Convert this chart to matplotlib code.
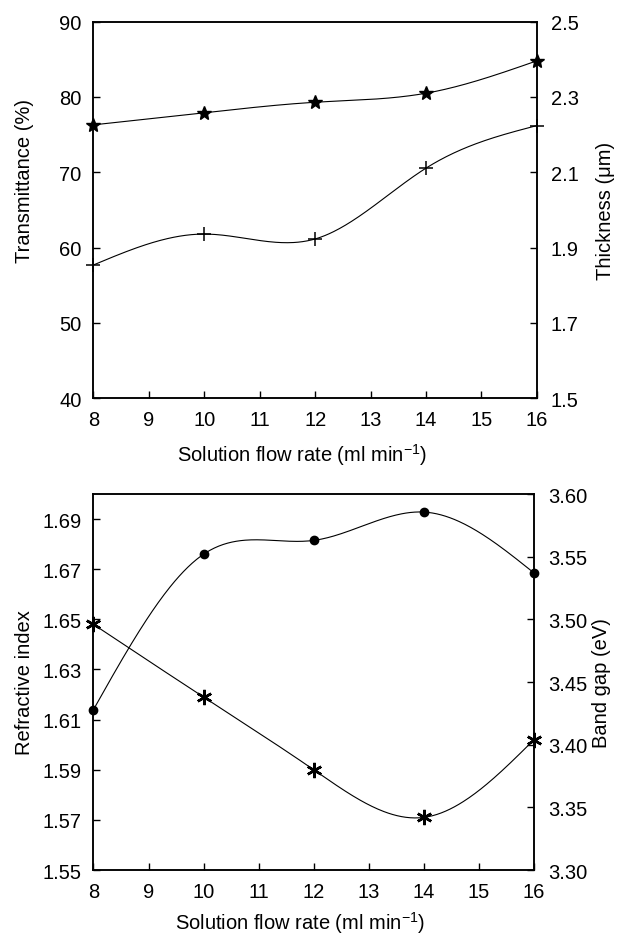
import numpy as np
import matplotlib.pyplot as plt

plt.rcParams['font.family'] = ['Liberation Sans', 'DejaVu Sans']
plt.rcParams['mathtext.fontset'] = 'custom'
plt.rcParams['mathtext.rm'] = 'Liberation Sans'
plt.rcParams['mathtext.it'] = 'Liberation Sans:italic'

# data
flow_rate     = [8, 10, 12, 14, 16]
transmittance = [76.3, 77.9, 79.3, 80.5, 84.8]       # stars, left axis
thickness     = [1.854, 1.936, 1.923, 2.111, 2.224]  # crosses, right axis
refr_index    = [1.614, 1.676, 1.6815, 1.6928, 1.6685]  # dots, left axis
band_gap      = [3.496, 3.438, 3.380, 3.342, 3.404]     # asterisks, right axis

XLABEL = r'Solution flow rate (ml min$^{-1}$)'
FS = 14.5


def natural_spline(x, y, n=300):
    """Smooth curve through the points (natural cubic spline)."""
    x = np.asarray(x, float)
    y = np.asarray(y, float)
    k = len(x)
    h = np.diff(x)
    A = np.zeros((k, k))
    b = np.zeros(k)
    A[0, 0] = A[-1, -1] = 1
    for i in range(1, k - 1):
        A[i, i - 1] = h[i - 1]
        A[i, i] = 2 * (h[i - 1] + h[i])
        A[i, i + 1] = h[i]
        b[i] = 6 * ((y[i + 1] - y[i]) / h[i] - (y[i] - y[i - 1]) / h[i - 1])
    M = np.linalg.solve(A, b)
    xs = np.linspace(x[0], x[-1], n)
    idx = np.clip(np.searchsorted(x, xs) - 1, 0, k - 2)
    x0, x1 = x[idx], x[idx + 1]
    hh = x1 - x0
    t0, t1 = x1 - xs, xs - x0
    ys = (M[idx] * t0**3 + M[idx + 1] * t1**3) / (6 * hh) \
        + (y[idx] / hh - M[idx] * hh / 6) * t0 \
        + (y[idx + 1] / hh - M[idx + 1] * hh / 6) * t1
    return xs, ys


def style(ax, twin, left_label, right_label, left_y=0.5, xlab_y=-0.148):
    for sp in list(ax.spines.values()) + list(twin.spines.values()):
        sp.set_linewidth(1.1)
    ax.tick_params(axis='both', direction='in', length=5, width=1.0,
                   labelsize=FS, top=False, right=False)
    ax.tick_params(axis='y', pad=8.5)
    ax.tick_params(axis='x', pad=8.5)
    twin.tick_params(axis='y', direction='in', length=5, width=1.0,
                     labelsize=FS, pad=10)
    ax.set_xlim(8, 16)
    ax.set_xticks(range(8, 17))
    ax.set_xlabel(XLABEL, fontsize=FS)
    ax.xaxis.set_label_coords(0.47, xlab_y)
    ax.xaxis.label.set_va('center')
    ax.set_ylabel(left_label, fontsize=FS)
    ax.yaxis.set_label_coords(-0.156, left_y)
    ax.yaxis.label.set_va('center')
    twin.set_ylabel(right_label, fontsize=FS)
    twin.yaxis.set_label_coords(1.154, 0.5)
    twin.yaxis.label.set_va('center')


fig = plt.figure(figsize=(6.17, 9.37), dpi=100)

# top panel
ax1 = fig.add_axes([0.1515, 0.5739, 0.7185, 0.4019])
tw1 = ax1.twinx()
xs, ys = natural_spline(flow_rate, transmittance)
ax1.plot(xs, ys, color='black', lw=0.8)
ax1.plot(flow_rate, transmittance, ls='none', marker='*', ms=10, color='black',
         clip_on=False)
xs, ys = natural_spline(flow_rate, thickness)
tw1.plot(xs, ys, color='black', lw=0.8)
tw1.plot(flow_rate, thickness, ls='none', marker='+', ms=10, mew=1.1,
         color='black', clip_on=False)
ax1.set_ylim(40, 90)
ax1.set_yticks(range(40, 91, 10))
tw1.set_ylim(1.5, 2.5)
tw1.set_yticks([1.5, 1.7, 1.9, 2.1, 2.3, 2.5])
tw1.set_yticklabels(['1.5', '1.7', '1.9', '2.1', '2.3', '2.5'])
style(ax1, tw1, 'Transmittance (%)', 'Thickness (μm)', left_y=0.58)

# bottom panel
ax2 = fig.add_axes([0.1515, 0.0704, 0.714, 0.4013])
tw2 = ax2.twinx()
xs, ys = natural_spline(flow_rate, refr_index)
ax2.plot(xs, ys, color='black', lw=0.8)
ax2.plot(flow_rate, refr_index, ls='none', marker='o', ms=6, color='black',
         clip_on=False)
xs, ys = natural_spline(flow_rate, band_gap)
tw2.plot(xs, ys, color='black', lw=0.8)
tw2.plot(flow_rate, band_gap, ls='none', marker=(6, 2, 0), ms=11, mew=1.8,
         color='black', clip_on=False)
ax2.set_ylim(1.55, 1.70)
ax2.set_yticks([1.55, 1.57, 1.59, 1.61, 1.63, 1.65, 1.67, 1.69])
ax2.set_yticklabels(['1.55', '1.57', '1.59', '1.61', '1.63', '1.65', '1.67', '1.69'])
tw2.set_ylim(3.30, 3.60)
tw2.set_yticks([3.30, 3.35, 3.40, 3.45, 3.50, 3.55, 3.60])
tw2.set_yticklabels(['3.30', '3.35', '3.40', '3.45', '3.50', '3.55', '3.60'])
style(ax2, tw2, 'Refractive index', 'Band gap (eV)', xlab_y=-0.138)

fig.savefig('out.png', dpi=100)
